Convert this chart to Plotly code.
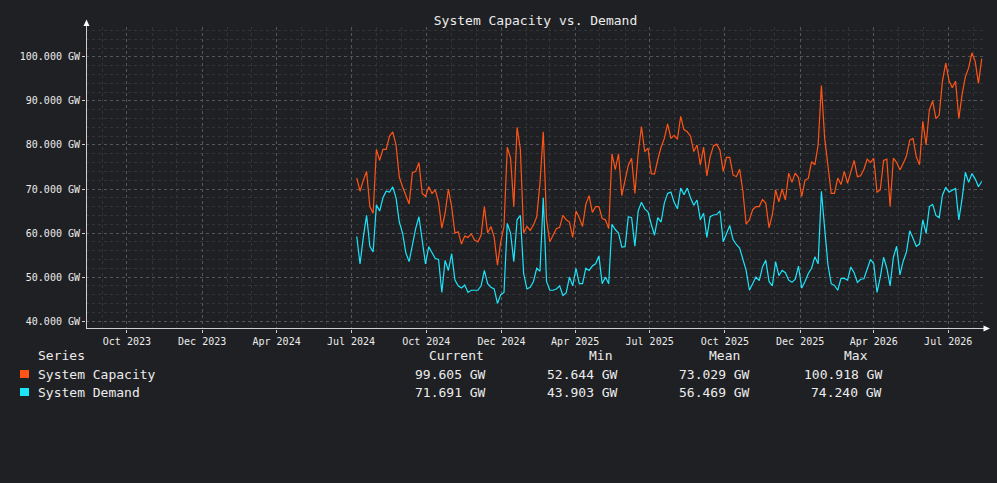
import pandas as pd
import plotly.graph_objects as go

# samples every 4 days
START_DATE = "2024-07-08"
STEP = "4D"

capacity_gw = [
    72.5, 69.5, 72, 74, 66, 64.5, 79, 76.5, 79, 79, 82, 83, 80, 72.7, 70.5, 68.5,
    66.6, 73.7, 74, 76, 69, 68.3, 70.5, 69, 69.8, 67, 61.1, 64.5, 70, 66, 60, 60.3,
    57.5, 59.3, 59, 59.8, 58.4, 58, 59.5, 66, 60, 61.5, 59, 52.7, 58, 61.5, 79.5, 77,
    66, 84, 79, 60, 61.5, 60.6, 61.8, 63.7, 71.4, 83, 63, 58, 59.5, 61, 61.3, 64,
    63, 62.5, 59, 65, 63.5, 61.5, 66.5, 68.5, 64.7, 66, 66, 63.3, 63, 61, 78, 74.4,
    78, 68.5, 72, 75.4, 77, 69, 78, 84.2, 78.5, 79.3, 73.5, 73.4, 76.7, 79.5, 81.5, 84.8,
    81.5, 82.2, 81.3, 86.5, 83.5, 83, 82, 78.5, 80, 75.5, 79.5, 73, 77.3, 79.8, 80.2, 78.8,
    74, 77.2, 77.2, 73.2, 72.8, 74.5, 69.5, 62, 63, 65.3, 66, 66, 67.6, 66.8, 61.2, 64.1,
    69.8, 67.1, 70, 67.5, 73.6, 71.5, 73.6, 72.6, 68.3, 72, 72.4, 76.2, 75.5, 80, 93.5, 81.5,
    75.4, 69, 69, 72.5, 71, 74, 71.3, 74, 76.5, 72.8, 73, 74.5, 76.8, 76, 77, 69.3,
    69.8, 76.5, 76.8, 66, 77, 76, 74.3, 75.8, 77.5, 81.1, 81.5, 77.3, 75.5, 85.4, 80, 88,
    90, 86, 86.8, 94.5, 98.6, 94.6, 93, 94.5, 86, 91.5, 95.5, 97.5, 100.9, 99, 94, 99.6,
]

demand_gw = [
    59.2, 53, 59, 64, 57, 55.7, 66.4, 65, 68, 69.5, 69.3, 70.5, 68, 62.5, 60, 55.5,
    53.5, 57.5, 61, 63.7, 58, 53, 56.9, 55.5, 54.2, 54, 46.5, 53.8, 51.5, 55.3, 49.3, 48,
    47.5, 48.2, 46.5, 47, 47, 47, 48, 51.5, 48.5, 47.7, 47.3, 44, 46, 46.5, 62.2, 60,
    53.5, 63, 64, 50.8, 47.3, 47.7, 49, 52, 51.3, 68, 49, 47, 47, 47.3, 48, 45.8,
    46.4, 50, 48, 52, 48.5, 48.5, 52, 51.5, 52.5, 53, 54.8, 48.5, 50, 48.5, 62, 60.8,
    60, 56.8, 56.9, 63.7, 63.5, 57, 65, 67, 65.5, 64.8, 62, 59.5, 63.5, 62.5, 66.8, 69,
    69.3, 67, 65.5, 70.2, 68.7, 70.2, 68, 66.3, 67.5, 63, 64.5, 59, 63.7, 64.1, 64.2, 65,
    58, 59.9, 61.7, 58.5, 57.4, 56.6, 54, 51.5, 47, 48.7, 50, 49.2, 52.3, 53.8, 49, 48,
    53.5, 50.3, 51.5, 51, 49.3, 48.8, 49.5, 52.5, 47.5, 49, 50.8, 52, 54.6, 53, 69.5, 61,
    52.8, 48.5, 48.1, 47, 49.7, 49.7, 49.3, 52.3, 51, 48.8, 49.5, 49.6, 51.8, 54, 53, 46.5,
    50, 54.5, 52, 48, 54.5, 57, 50.5, 53.6, 55.7, 60.5, 58.8, 57, 57.5, 63, 59.9, 66,
    66.5, 64, 63.5, 68.6, 70.4, 69.3, 69.7, 70.1, 63, 67.8, 73.8, 71.5, 73.5, 72.3, 70.5, 71.7,
]

series_names = ["System Capacity", "System Demand"]
series_colors = ["#ff5416", "#1ce4fb"]
stat_headers = ["Current", "Min", "Mean", "Max"]
stat_values = [
    [99.605, 52.644, 73.029, 100.918],
    [71.691, 43.903, 56.469, 74.240],
]

tick_dates = ["2023-10-01", "2024-01-01", "2024-04-01", "2024-07-01", "2024-10-01",
              "2025-01-01", "2025-04-01", "2025-07-01", "2025-10-01", "2026-01-01",
              "2026-04-01", "2026-07-01"]
tick_labels = ["Oct 2023", "Dec 2023", "Apr 2024", "Jul 2024", "Oct 2024", "Dec 2024",
               "Apr 2025", "Jul 2025", "Oct 2025", "Dec 2025", "Apr 2026", "Jul 2026"]

W, H = 997, 483
L, R, T, B = 86, 12, 27, 154
BG = "#1f2023"
FG = "#ececec"
AXIS = "#cfcfcf"
MONO = "DejaVu Sans Mono"


def px(x):
    return (x - L) / (W - L - R)


def py(y):
    return (H - B - y) / (H - T - B)


dates = pd.date_range(START_DATE, periods=len(capacity_gw), freq=STEP)

fig = go.Figure()
for name, vals, color in zip(series_names, [capacity_gw, demand_gw], series_colors):
    fig.add_trace(go.Scatter(x=dates, y=vals, mode="lines", name=name,
                             line=dict(color=color, width=1.2)))

shapes = [
    # axis lines with arrow heads
    dict(type="line", xref="paper", yref="paper", x0=px(86.5), x1=px(86.5),
         y0=py(329), y1=py(24), line=dict(color=AXIS, width=1)),
    dict(type="line", xref="paper", yref="paper", x0=px(86), x1=px(985),
         y0=py(328.5), y1=py(328.5), line=dict(color=AXIS, width=1)),
    dict(type="path", xref="paper", yref="paper", fillcolor="#ffffff", line=dict(width=0),
         path=f"M {px(86.5)} {py(19.5)} L {px(83.5)} {py(26)} L {px(89.5)} {py(26)} Z"),
    dict(type="path", xref="paper", yref="paper", fillcolor="#ffffff", line=dict(width=0),
         path=f"M {px(990)} {py(328.5)} L {px(983.5)} {py(325.5)} L {px(983.5)} {py(331.5)} Z"),
]

annotations = [dict(text="Series", x=px(36), y=py(356), xref="paper", yref="paper",
                    xanchor="left", yanchor="middle", showarrow=False,
                    font=dict(family=MONO, size=13, color=FG))]

header_centers = [456, 600, 724, 856]
value_rights = [488, 620, 752, 884]
row_ys = [374, 392]

for hx, head in zip(header_centers, stat_headers):
    annotations.append(dict(text=head, x=px(hx), y=py(356), xref="paper", yref="paper",
                            xanchor="center", yanchor="middle", showarrow=False,
                            font=dict(family=MONO, size=13, color=FG)))

for ry, name, color, vals in zip(row_ys, series_names, series_colors, stat_values):
    shapes.append(dict(type="rect", xref="paper", yref="paper", x0=px(20), x1=px(29),
                       y0=py(ry - 4), y1=py(ry + 4), fillcolor=color, line=dict(width=0)))
    annotations.append(dict(text=name, x=px(36), y=py(ry), xref="paper", yref="paper",
                            xanchor="left", yanchor="middle", showarrow=False,
                            font=dict(family=MONO, size=13, color=FG)))
    for vx, v in zip(value_rights, vals):
        annotations.append(dict(text=f"{v:.3f} GW", x=px(vx), y=py(ry), xref="paper",
                                yref="paper", xanchor="right", yanchor="middle",
                                showarrow=False, font=dict(family=MONO, size=13, color=FG)))

fig.update_layout(
    width=W, height=H,
    paper_bgcolor=BG, plot_bgcolor=BG,
    margin=dict(l=L, r=R, t=T, b=B),
    showlegend=False,
    title=dict(text="System Capacity vs. Demand", x=0.5, xanchor="center",
               xref="paper", yref="container", y=1 - 20 / H, yanchor="middle",
               font=dict(family=MONO, size=13, color=FG)),
    font=dict(family=MONO, size=10, color=FG),
    shapes=shapes,
    annotations=annotations,
)

fig.update_xaxes(
    type="date", range=["2023-08-12", "2026-08-15"],
    tickmode="array", tickvals=tick_dates, ticktext=tick_labels,
    tickfont=dict(family=MONO, size=10, color=FG),
    ticks="outside", ticklen=3, tickcolor=AXIS,
    showgrid=True, gridcolor="#55565a", griddash="dot", gridwidth=1,
    minor=dict(tickmode="linear", tick0="2023-01-01", dtick="M1", showgrid=True,
               gridcolor="#333438", griddash="dot", ticks=""),
    showline=False, zeroline=False,
)

fig.update_yaxes(
    range=[38.2, 106.8],
    tickmode="linear", tick0=40, dtick=10,
    tickformat=".3f", ticksuffix=" GW",
    tickfont=dict(family=MONO, size=10, color=FG),
    ticks="outside", ticklen=3, tickcolor=AXIS,
    showgrid=True, gridcolor="#55565a", griddash="dot", gridwidth=1,
    minor=dict(tickmode="linear", tick0=40, dtick=2, showgrid=True,
               gridcolor="#333438", griddash="dot", ticks=""),
    showline=False, zeroline=False,
)

# drop the browser's default page margin so the chart fills the window
fig.write_html("out.html", config={"displayModeBar": False},
               post_script="document.body.style.margin='0';"
               "document.body.style.background='" + BG + "';")
